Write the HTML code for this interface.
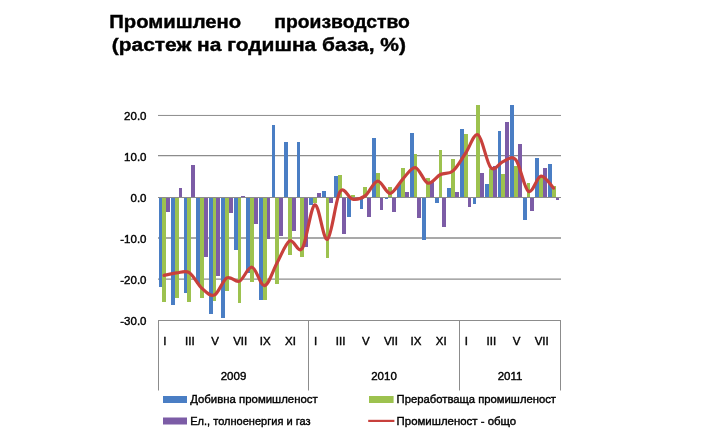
<!DOCTYPE html>
<html><head><meta charset="utf-8"><style>
html,body{margin:0;padding:0;background:#fff;width:726px;height:444px;overflow:hidden}
svg{display:block;will-change:transform}
text{font-family:"Liberation Sans", sans-serif;fill:#000}
.s{stroke:#000;stroke-width:0.4px}
.t{stroke:#000;stroke-width:0.4px}
</style></head><body>
<svg width="726" height="444" viewBox="0 0 726 444">
<line x1="158" y1="115.45" x2="561" y2="115.45" stroke="#8c8c8c" stroke-width="1.0"/>
<line x1="158" y1="155.7" x2="561" y2="155.7" stroke="#8c8c8c" stroke-width="1.3"/>
<line x1="158" y1="238.0" x2="561" y2="238.0" stroke="#8c8c8c" stroke-width="1.6"/>
<line x1="158" y1="279.2" x2="561" y2="279.2" stroke="#8c8c8c" stroke-width="1.3"/>
<rect x="158.50" y="197.50" width="3.80" height="89.79" fill="#4a7ec4" shape-rendering="crispEdges"/>
<rect x="162.30" y="197.50" width="3.80" height="104.14" fill="#9dc24f" shape-rendering="crispEdges"/>
<rect x="166.10" y="197.50" width="3.80" height="14.35" fill="#7c5ca6" shape-rendering="crispEdges"/>
<rect x="171.06" y="197.50" width="3.80" height="107.83" fill="#4a7ec4" shape-rendering="crispEdges"/>
<rect x="174.86" y="197.50" width="3.80" height="100.04" fill="#9dc24f" shape-rendering="crispEdges"/>
<rect x="178.66" y="188.48" width="3.80" height="9.02" fill="#7c5ca6" shape-rendering="crispEdges"/>
<rect x="183.62" y="197.50" width="3.80" height="95.94" fill="#4a7ec4" shape-rendering="crispEdges"/>
<rect x="187.43" y="197.50" width="3.80" height="104.96" fill="#9dc24f" shape-rendering="crispEdges"/>
<rect x="191.22" y="165.11" width="3.80" height="32.39" fill="#7c5ca6" shape-rendering="crispEdges"/>
<rect x="196.19" y="197.50" width="3.80" height="86.92" fill="#4a7ec4" shape-rendering="crispEdges"/>
<rect x="199.99" y="197.50" width="3.80" height="100.04" fill="#9dc24f" shape-rendering="crispEdges"/>
<rect x="203.79" y="197.50" width="3.80" height="59.45" fill="#7c5ca6" shape-rendering="crispEdges"/>
<rect x="208.75" y="197.50" width="3.80" height="116.85" fill="#4a7ec4" shape-rendering="crispEdges"/>
<rect x="212.55" y="197.50" width="3.80" height="103.73" fill="#9dc24f" shape-rendering="crispEdges"/>
<rect x="216.35" y="197.50" width="3.80" height="78.72" fill="#7c5ca6" shape-rendering="crispEdges"/>
<rect x="221.31" y="197.50" width="3.80" height="120.95" fill="#4a7ec4" shape-rendering="crispEdges"/>
<rect x="225.11" y="197.50" width="3.80" height="93.89" fill="#9dc24f" shape-rendering="crispEdges"/>
<rect x="228.91" y="197.50" width="3.80" height="15.99" fill="#7c5ca6" shape-rendering="crispEdges"/>
<rect x="233.88" y="197.50" width="3.80" height="52.48" fill="#4a7ec4" shape-rendering="crispEdges"/>
<rect x="237.68" y="197.50" width="3.80" height="105.78" fill="#9dc24f" shape-rendering="crispEdges"/>
<rect x="241.47" y="196.27" width="3.80" height="1.23" fill="#7c5ca6" shape-rendering="crispEdges"/>
<rect x="246.44" y="197.50" width="3.80" height="75.44" fill="#4a7ec4" shape-rendering="crispEdges"/>
<rect x="250.24" y="197.50" width="3.80" height="84.05" fill="#9dc24f" shape-rendering="crispEdges"/>
<rect x="254.04" y="197.50" width="3.80" height="26.24" fill="#7c5ca6" shape-rendering="crispEdges"/>
<rect x="259.00" y="197.50" width="3.80" height="102.91" fill="#4a7ec4" shape-rendering="crispEdges"/>
<rect x="262.80" y="197.50" width="3.80" height="102.09" fill="#9dc24f" shape-rendering="crispEdges"/>
<rect x="266.60" y="197.50" width="3.80" height="41.41" fill="#7c5ca6" shape-rendering="crispEdges"/>
<rect x="271.56" y="125.34" width="3.80" height="72.16" fill="#4a7ec4" shape-rendering="crispEdges"/>
<rect x="275.36" y="197.50" width="3.80" height="86.10" fill="#9dc24f" shape-rendering="crispEdges"/>
<rect x="279.16" y="197.50" width="3.80" height="38.13" fill="#7c5ca6" shape-rendering="crispEdges"/>
<rect x="284.12" y="142.15" width="3.80" height="55.35" fill="#4a7ec4" shape-rendering="crispEdges"/>
<rect x="287.93" y="197.50" width="3.80" height="57.40" fill="#9dc24f" shape-rendering="crispEdges"/>
<rect x="291.73" y="197.50" width="3.80" height="33.21" fill="#7c5ca6" shape-rendering="crispEdges"/>
<rect x="296.69" y="142.15" width="3.80" height="55.35" fill="#4a7ec4" shape-rendering="crispEdges"/>
<rect x="300.49" y="197.50" width="3.80" height="59.86" fill="#9dc24f" shape-rendering="crispEdges"/>
<rect x="304.29" y="197.50" width="3.80" height="49.20" fill="#7c5ca6" shape-rendering="crispEdges"/>
<rect x="309.25" y="197.50" width="3.80" height="7.38" fill="#4a7ec4" shape-rendering="crispEdges"/>
<rect x="313.05" y="197.50" width="3.80" height="5.33" fill="#9dc24f" shape-rendering="crispEdges"/>
<rect x="316.85" y="193.40" width="3.80" height="4.10" fill="#7c5ca6" shape-rendering="crispEdges"/>
<rect x="321.81" y="191.35" width="3.80" height="6.15" fill="#4a7ec4" shape-rendering="crispEdges"/>
<rect x="325.61" y="197.50" width="3.80" height="60.68" fill="#9dc24f" shape-rendering="crispEdges"/>
<rect x="329.41" y="197.50" width="3.80" height="5.33" fill="#7c5ca6" shape-rendering="crispEdges"/>
<rect x="334.38" y="176.18" width="3.80" height="21.32" fill="#4a7ec4" shape-rendering="crispEdges"/>
<rect x="338.18" y="175.36" width="3.80" height="22.14" fill="#9dc24f" shape-rendering="crispEdges"/>
<rect x="341.98" y="197.50" width="3.80" height="36.49" fill="#7c5ca6" shape-rendering="crispEdges"/>
<rect x="346.94" y="197.50" width="3.80" height="19.27" fill="#4a7ec4" shape-rendering="crispEdges"/>
<rect x="350.74" y="195.45" width="3.80" height="2.05" fill="#9dc24f" shape-rendering="crispEdges"/>
<rect x="354.54" y="197.50" width="3.80" height="0.41" fill="#7c5ca6" shape-rendering="crispEdges"/>
<rect x="359.50" y="197.50" width="3.80" height="11.48" fill="#4a7ec4" shape-rendering="crispEdges"/>
<rect x="363.30" y="187.25" width="3.80" height="10.25" fill="#9dc24f" shape-rendering="crispEdges"/>
<rect x="367.10" y="197.50" width="3.80" height="19.27" fill="#7c5ca6" shape-rendering="crispEdges"/>
<rect x="372.06" y="138.05" width="3.80" height="59.45" fill="#4a7ec4" shape-rendering="crispEdges"/>
<rect x="375.86" y="173.31" width="3.80" height="24.19" fill="#9dc24f" shape-rendering="crispEdges"/>
<rect x="379.66" y="197.50" width="3.80" height="12.30" fill="#7c5ca6" shape-rendering="crispEdges"/>
<rect x="384.62" y="197.50" width="3.80" height="1.64" fill="#4a7ec4" shape-rendering="crispEdges"/>
<rect x="388.43" y="186.84" width="3.80" height="10.66" fill="#9dc24f" shape-rendering="crispEdges"/>
<rect x="392.23" y="197.50" width="3.80" height="14.35" fill="#7c5ca6" shape-rendering="crispEdges"/>
<rect x="397.19" y="184.38" width="3.80" height="13.12" fill="#4a7ec4" shape-rendering="crispEdges"/>
<rect x="400.99" y="167.57" width="3.80" height="29.93" fill="#9dc24f" shape-rendering="crispEdges"/>
<rect x="404.79" y="191.76" width="3.80" height="5.74" fill="#7c5ca6" shape-rendering="crispEdges"/>
<rect x="409.75" y="133.13" width="3.80" height="64.37" fill="#4a7ec4" shape-rendering="crispEdges"/>
<rect x="413.55" y="153.63" width="3.80" height="43.87" fill="#9dc24f" shape-rendering="crispEdges"/>
<rect x="417.35" y="197.50" width="3.80" height="20.50" fill="#7c5ca6" shape-rendering="crispEdges"/>
<rect x="422.31" y="197.50" width="3.80" height="42.64" fill="#4a7ec4" shape-rendering="crispEdges"/>
<rect x="426.11" y="177.82" width="3.80" height="19.68" fill="#9dc24f" shape-rendering="crispEdges"/>
<rect x="429.91" y="181.92" width="3.80" height="15.58" fill="#7c5ca6" shape-rendering="crispEdges"/>
<rect x="434.88" y="197.50" width="3.80" height="5.33" fill="#4a7ec4" shape-rendering="crispEdges"/>
<rect x="438.68" y="150.35" width="3.80" height="47.15" fill="#9dc24f" shape-rendering="crispEdges"/>
<rect x="442.48" y="197.50" width="3.80" height="29.52" fill="#7c5ca6" shape-rendering="crispEdges"/>
<rect x="447.44" y="188.48" width="3.80" height="9.02" fill="#4a7ec4" shape-rendering="crispEdges"/>
<rect x="451.24" y="158.55" width="3.80" height="38.95" fill="#9dc24f" shape-rendering="crispEdges"/>
<rect x="455.04" y="192.17" width="3.80" height="5.33" fill="#7c5ca6" shape-rendering="crispEdges"/>
<rect x="460.00" y="129.44" width="3.80" height="68.06" fill="#4a7ec4" shape-rendering="crispEdges"/>
<rect x="463.80" y="133.54" width="3.80" height="63.96" fill="#9dc24f" shape-rendering="crispEdges"/>
<rect x="467.60" y="197.50" width="3.80" height="9.43" fill="#7c5ca6" shape-rendering="crispEdges"/>
<rect x="472.56" y="197.50" width="3.80" height="6.56" fill="#4a7ec4" shape-rendering="crispEdges"/>
<rect x="476.36" y="105.25" width="3.80" height="92.25" fill="#9dc24f" shape-rendering="crispEdges"/>
<rect x="480.16" y="173.31" width="3.80" height="24.19" fill="#7c5ca6" shape-rendering="crispEdges"/>
<rect x="485.12" y="184.38" width="3.80" height="13.12" fill="#4a7ec4" shape-rendering="crispEdges"/>
<rect x="488.93" y="169.21" width="3.80" height="28.29" fill="#9dc24f" shape-rendering="crispEdges"/>
<rect x="492.73" y="166.34" width="3.80" height="31.16" fill="#7c5ca6" shape-rendering="crispEdges"/>
<rect x="497.69" y="131.49" width="3.80" height="66.01" fill="#4a7ec4" shape-rendering="crispEdges"/>
<rect x="501.49" y="173.72" width="3.80" height="23.78" fill="#9dc24f" shape-rendering="crispEdges"/>
<rect x="505.29" y="122.06" width="3.80" height="75.44" fill="#7c5ca6" shape-rendering="crispEdges"/>
<rect x="510.25" y="105.25" width="3.80" height="92.25" fill="#4a7ec4" shape-rendering="crispEdges"/>
<rect x="514.05" y="165.52" width="3.80" height="31.98" fill="#9dc24f" shape-rendering="crispEdges"/>
<rect x="517.85" y="144.20" width="3.80" height="53.30" fill="#7c5ca6" shape-rendering="crispEdges"/>
<rect x="522.81" y="197.50" width="3.80" height="22.96" fill="#4a7ec4" shape-rendering="crispEdges"/>
<rect x="526.61" y="182.74" width="3.80" height="14.76" fill="#9dc24f" shape-rendering="crispEdges"/>
<rect x="530.41" y="197.50" width="3.80" height="13.94" fill="#7c5ca6" shape-rendering="crispEdges"/>
<rect x="535.38" y="158.14" width="3.80" height="39.36" fill="#4a7ec4" shape-rendering="crispEdges"/>
<rect x="539.17" y="177.41" width="3.80" height="20.09" fill="#9dc24f" shape-rendering="crispEdges"/>
<rect x="542.98" y="168.39" width="3.80" height="29.11" fill="#7c5ca6" shape-rendering="crispEdges"/>
<rect x="547.94" y="164.29" width="3.80" height="33.21" fill="#4a7ec4" shape-rendering="crispEdges"/>
<rect x="551.74" y="185.61" width="3.80" height="11.89" fill="#9dc24f" shape-rendering="crispEdges"/>
<rect x="555.54" y="197.50" width="3.80" height="2.46" fill="#7c5ca6" shape-rendering="crispEdges"/>
<line x1="158" y1="197.5" x2="561" y2="197.5" stroke="#8c8c8c" stroke-width="1.0"/>
<path d="M164.08,275.40 C166.18,274.99 172.46,273.42 176.64,272.94 C180.83,272.46 185.02,270.00 189.21,272.53 C193.39,275.06 197.58,284.35 201.77,288.11 C205.96,291.87 210.14,296.79 214.33,295.08 C218.52,293.37 222.71,280.18 226.89,277.86 C231.08,275.54 235.27,282.92 239.46,281.14 C243.64,279.36 247.83,266.45 252.02,267.20 C256.21,267.95 260.39,286.40 264.58,285.65 C268.77,284.90 272.96,270.14 277.14,262.69 C281.33,255.24 285.52,243.35 289.71,240.96 C293.89,238.57 298.08,254.35 302.27,248.34 C306.46,242.33 310.64,206.38 314.83,204.88 C319.02,203.38 323.21,241.51 327.39,239.32 C331.58,237.13 335.77,198.46 339.96,191.76 C344.14,185.06 348.33,198.46 352.52,199.14 C356.71,199.82 360.89,198.87 365.08,195.86 C369.27,192.85 373.46,181.51 377.64,181.10 C381.83,180.69 386.02,193.74 390.21,193.40 C394.39,193.06 398.58,183.36 402.77,179.05 C406.96,174.75 411.14,166.89 415.33,167.57 C419.52,168.25 423.71,181.99 427.89,183.15 C432.08,184.31 436.27,176.59 440.46,174.54 C444.64,172.49 448.83,174.40 453.02,170.85 C457.21,167.30 461.39,159.23 465.58,153.22 C469.77,147.21 473.96,132.38 478.14,134.77 C482.33,137.16 486.52,163.13 490.71,167.57 C494.89,172.01 499.08,162.72 503.27,161.42 C507.46,160.12 511.64,154.79 515.83,159.78 C520.02,164.77 524.21,188.62 528.39,191.35 C532.58,194.08 536.77,176.73 540.96,176.18 C545.14,175.63 551.42,186.09 553.52,188.07" fill="none" stroke="#c8403c" stroke-width="3.2" stroke-linejoin="round" stroke-linecap="round"/>
<line x1="158" y1="320.5" x2="561" y2="320.5" stroke="#8c8c8c" stroke-width="1"/>
<line x1="158.5" y1="320" x2="158.5" y2="390.5" stroke="#8c8c8c" stroke-width="1"/>
<line x1="308.5" y1="320" x2="308.5" y2="390.5" stroke="#8c8c8c" stroke-width="1"/>
<line x1="459.5" y1="320" x2="459.5" y2="390.5" stroke="#8c8c8c" stroke-width="1"/>
<line x1="560.5" y1="320" x2="560.5" y2="390.5" stroke="#8c8c8c" stroke-width="1"/>
<text class="s" x="146.5" y="120.0" text-anchor="end" font-size="11.5">20.0</text>
<text class="s" x="146.5" y="161.0" text-anchor="end" font-size="11.5">10.0</text>
<text class="s" x="146.5" y="202.0" text-anchor="end" font-size="11.5">0.0</text>
<text class="s" x="146.5" y="243.0" text-anchor="end" font-size="11.5">-10.0</text>
<text class="s" x="146.5" y="284.0" text-anchor="end" font-size="11.5">-20.0</text>
<text class="s" x="146.5" y="325.0" text-anchor="end" font-size="11.5">-30.0</text>
<text class="s" x="164.78" y="345" text-anchor="middle" font-size="11.5">I</text>
<text class="s" x="189.91" y="345" text-anchor="middle" font-size="11.5">III</text>
<text class="s" x="215.03" y="345" text-anchor="middle" font-size="11.5">V</text>
<text class="s" x="240.16" y="345" text-anchor="middle" font-size="11.5">VII</text>
<text class="s" x="265.28" y="345" text-anchor="middle" font-size="11.5">IX</text>
<text class="s" x="290.41" y="345" text-anchor="middle" font-size="11.5">XI</text>
<text class="s" x="315.53" y="345" text-anchor="middle" font-size="11.5">I</text>
<text class="s" x="340.66" y="345" text-anchor="middle" font-size="11.5">III</text>
<text class="s" x="365.78" y="345" text-anchor="middle" font-size="11.5">V</text>
<text class="s" x="390.91" y="345" text-anchor="middle" font-size="11.5">VII</text>
<text class="s" x="416.03" y="345" text-anchor="middle" font-size="11.5">IX</text>
<text class="s" x="441.16" y="345" text-anchor="middle" font-size="11.5">XI</text>
<text class="s" x="466.28" y="345" text-anchor="middle" font-size="11.5">I</text>
<text class="s" x="491.41" y="345" text-anchor="middle" font-size="11.5">III</text>
<text class="s" x="516.53" y="345" text-anchor="middle" font-size="11.5">V</text>
<text class="s" x="541.66" y="345" text-anchor="middle" font-size="11.5">VII</text>
<text class="s" x="233.5" y="380.2" text-anchor="middle" font-size="11.5">2009</text>
<text class="s" x="384" y="380.2" text-anchor="middle" font-size="11.5">2010</text>
<text class="s" x="510" y="380.2" text-anchor="middle" font-size="11.5">2011</text>
<rect x="163" y="396" width="24" height="7" fill="#4a7ec4"/>
<text class="s" x="190.2" y="403.2" font-size="11.5" textLength="127.5" lengthAdjust="spacingAndGlyphs">Добивна промишленост</text>
<rect x="369" y="396" width="24.6" height="7" fill="#9dc24f"/>
<text class="s" x="396.6" y="403.2" font-size="11.5" textLength="159.4" lengthAdjust="spacingAndGlyphs">Преработваща промишленост</text>
<rect x="163" y="417.5" width="24" height="7" fill="#7c5ca6"/>
<text class="s" x="190.2" y="424.6" font-size="11.5" textLength="120.4" lengthAdjust="spacingAndGlyphs">Ел., толноенергия и газ</text>
<line x1="368.2" y1="420.9" x2="394.4" y2="420.9" stroke="#c8403c" stroke-width="2.2"/>
<text class="s" x="396.6" y="424.6" font-size="11.5" textLength="119.6" lengthAdjust="spacingAndGlyphs">Промишленост - общо</text>
<text x="109.3" y="28.1" font-size="18" class="t" font-weight="bold" textLength="131.9" lengthAdjust="spacingAndGlyphs">Промишлено</text>
<text x="274.3" y="28.1" font-size="18" class="t" font-weight="bold" textLength="135.6" lengthAdjust="spacingAndGlyphs">производство</text>
<text x="111.7" y="51.4" font-size="18" class="t" font-weight="bold" textLength="294.3" lengthAdjust="spacingAndGlyphs">(растеж на годишна база, %)</text>
</svg>
</body></html>
